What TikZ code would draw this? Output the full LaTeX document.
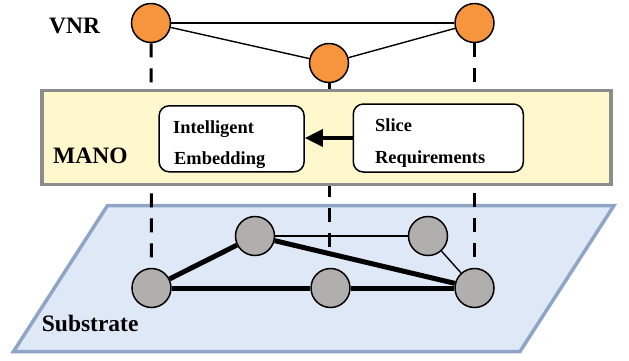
\documentclass[tikz,border=0pt]{standalone}
\usepackage{fontspec}
\setmainfont{Liberation Serif}
\usetikzlibrary{arrows.meta}
\pgfdeclarelayer{planelayer}
\pgfdeclarelayer{dashlayer}
\pgfdeclarelayer{panellayer}
\pgfdeclarelayer{linklayer}
\pgfsetlayers{planelayer,dashlayer,panellayer,linklayer,main}
\definecolor{vnrfill}{RGB}{247,149,62}
\definecolor{subfill}{RGB}{176,175,173}
\definecolor{manofill}{RGB}{255,248,204}
\definecolor{manoline}{RGB}{140,140,140}
\definecolor{planefill}{RGB}{222,232,246}
\definecolor{planeline}{RGB}{142,165,200}
\tikzset{
  vnode/.style={circle,draw=black,line width=1.5pt,fill=vnrfill,minimum size=39pt,inner sep=0pt},
  snode/.style={circle,draw=black,line width=1.5pt,fill=subfill,minimum size=39pt,inner sep=0pt},
  bigtext/.style={anchor=base west,inner sep=0pt,font=\fontsize{23.5}{26}\selectfont\bfseries},
  smalltext/.style={anchor=base west,inner sep=0pt,font=\fontsize{18.4}{20}\selectfont\bfseries},
  panelbox/.style={draw=manoline,fill=manofill,line width=3.5pt,inner sep=0pt},
  roundbox/.style={draw=black,fill=white,line width=1.5pt,rounded corners=10pt,inner sep=0pt},
  mapline/.style={line width=3pt,dash pattern=on 14pt off 11pt},
  thinlink/.style={line width=1.4pt},
  thicklink/.style={line width=5pt},
  flowarrow/.style={line width=3.5pt,-{Triangle[length=18pt,width=17pt]}},
}
\begin{document}
\begin{tikzpicture}[x=1pt,y=-1pt]
\useasboundingbox (0,0) rectangle (629,360);
% plane
\begin{pgfonlayer}{planelayer}
\draw[draw=planeline,fill=planefill,line width=3.5pt] (107.5,205.5) -- (614,205.5) -- (520,351.5) -- (13.5,351.5) -- cycle;
\end{pgfonlayer}
% VNR nodes
\node[vnode] (v1) at (151,23) {};
\node[vnode] (v2) at (329,63) {};
\node[vnode] (v3) at (474.5,23) {};
% substrate nodes
\node[snode] (sa) at (151.5,288) {};
\node[snode] (sb) at (255,236) {};
\node[snode] (sc) at (428,236) {};
\node[snode] (sd) at (330.5,288) {};
\node[snode] (se) at (474.5,288) {};
\coordinate (midend) at (329.5,258);
% dashed mapping lines
\begin{pgfonlayer}{dashlayer}
\draw[mapline] (v1.south) -- (sa.north);
\draw[mapline] (v2.south -| midend) -- (midend);
\draw[mapline] (v3.south) -- (se.north);
\end{pgfonlayer}
% MANO panel
\begin{pgfonlayer}{panellayer}
\node[panelbox,minimum width=569pt,minimum height=94pt] (mano) at (326.5,137.5) {};
\end{pgfonlayer}
\node[roundbox,minimum width=145pt,minimum height=66pt] (ie) at (231.6,138.8) {};
\node[roundbox,minimum width=170pt,minimum height=68pt] (sr) at (438.3,138) {};
\draw[flowarrow] (sr.west) -- (sr.west -| ie.east);
% texts
\node[bigtext] (tvnr) at (49,33.3) {VNR};
\node[bigtext] (tmano) at (53,163.3) {MANO};
\node[bigtext] (tsub) at (41.7,331.7) {Substrate};
\node[smalltext] (tint) at (173,133.3) {Intelligent};
\node[smalltext] (temb) at (174,164.3) {Embedding};
\node[smalltext] (tsli) at (375,131) {Slice};
\node[smalltext] (treq) at (375,163.3) {Requirements};
% links
\begin{pgfonlayer}{linklayer}
\draw[thinlink] (v1) -- (v3);
\draw[thinlink] (v1) -- (v2);
\draw[thinlink] (v2) -- (v3);
\draw[thicklink] (sa) -- (sb);
\draw[thicklink] (sa) -- (sd);
\draw[thicklink] (sd) -- (se);
\draw[thicklink] (sb) -- (se);
\draw[thinlink] (sb) -- (sc);
\draw[thinlink] (sc) -- (se);
\end{pgfonlayer}
\end{tikzpicture}
\end{document}
